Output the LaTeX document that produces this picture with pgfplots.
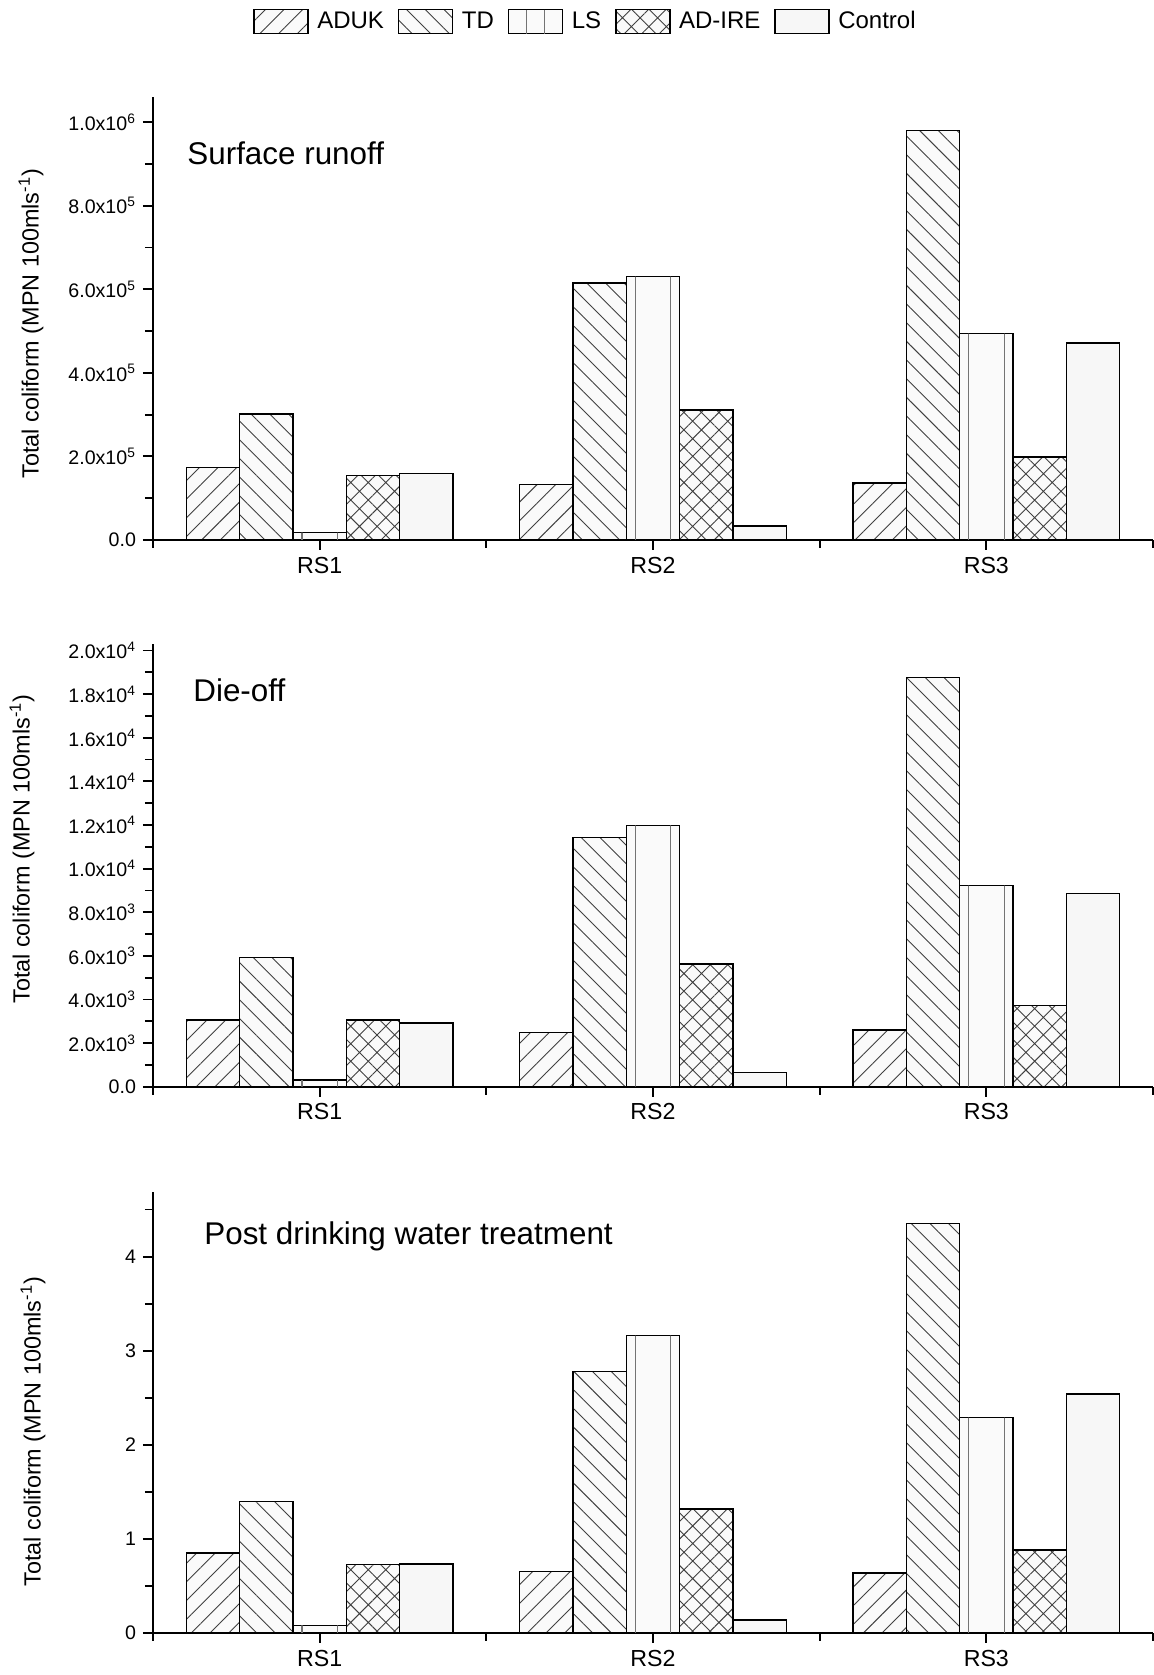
\documentclass[border=0pt]{standalone}
\usepackage{fontspec}
\setmainfont{Liberation Sans}
\usepackage{pgfplots}
\pgfplotsset{compat=1.18}
\usepackage{pgfplotstable}
\usetikzlibrary{patterns.meta}

% Surface runoff
\pgfplotstableread{
x ADUK TD LS ADIRE Control
1 1.73e5 3.01e5 1.75e4 1.54e5 1.59e5
2 1.33e5 6.15e5 6.30e5 3.11e5 3.4e4
3 1.36e5 9.80e5 4.94e5 1.98e5 4.71e5
}\surface
% Die-off
\pgfplotstableread{
x ADUK TD LS ADIRE Control
1 3050 5915 305 3050 2930
2 2480 11420 11980 5630 640
3 2590 18770 9220 3720 8850
}\dieoff
% Post drinking water treatment
\pgfplotstableread{
x ADUK TD LS ADIRE Control
1 0.85 1.40 0.08 0.726 0.733
2 0.655 2.78 3.16 1.32 0.14
3 0.64 4.35 2.29 0.88 2.54
}\post

\pgfplotsset{
  barbase/.style={ybar, bar width=0.16, draw=black, line width=0.75pt},
  aduk/.style={barbase, bar shift=-0.32, fill=black!2,
     postaction={pattern={Lines[angle=45,distance=6.6pt,line width=0.45pt]}, pattern color=black!75},
     legend image code/.code={\draw[##1] (0pt,-6pt) rectangle (27pt,6pt);}},
  td/.style={barbase, bar shift=-0.16, fill=black!2,
     postaction={pattern={Lines[angle=-45,distance=6.6pt,line width=0.45pt]}, pattern color=black!75},
     legend image code/.code={\draw[##1] (0pt,-6pt) rectangle (27pt,6pt);}},
  ls/.style={barbase, bar shift=0, fill=black!2,
     legend image code/.code={\draw[##1] (0pt,-6pt) rectangle (27pt,6pt);
        \draw[black!55,line width=0.6pt] (9pt,-6pt)--(9pt,6pt) (18pt,-6pt)--(18pt,6pt);}},
  lsline/.style={ybar, bar width=0pt, draw=black!55, line width=0.6pt, fill=none, forget plot},
  adire/.style={barbase, bar shift=0.16, fill=black!2,
     postaction={pattern={Hatch[angle=45,distance=6.2pt,line width=0.45pt]}, pattern color=black!75},
     legend image code/.code={\draw[##1] (0pt,-6pt) rectangle (27pt,6pt);}},
  control/.style={barbase, bar shift=0.32, fill=black!3,
     legend image code/.code={\draw[##1] (0pt,-6pt) rectangle (27pt,6pt);}},
  common/.style={
    scale only axis, width=500pt, xmin=0.5, xmax=3.5, ymin=0,
    axis x line*=bottom, axis y line*=left,
    axis line style={line width=1pt, black},
    xtick={1,2,3}, xticklabels={RS1,RS2,RS3},
    minor xtick={0.5,1.5,2.5,3.5},
    tick align=outside, major tick length=5pt, minor tick length=4pt,
    tick style={black, line width=0.9pt},
    scaled y ticks=false,
    x tick label style={font=\fontsize{11.6}{13}\selectfont},
    y tick label style={font=\fontsize{9.8}{11}\selectfont},
    ylabel={Total coliform (MPN 100mls\textsuperscript{-1})},
    ylabel style={font=\fontsize{11.7}{14}\selectfont, anchor=center},
    clip=false,
  },
}

\newcommand{\panelplots}[1]{%
  \addplot[aduk] table[x=x,y=ADUK] {#1};
  \addplot[td] table[x=x,y=TD] {#1};
  \addplot[ls] table[x=x,y=LS] {#1};
  \addplot[lsline, bar shift=-0.0533] table[x=x,y=LS] {#1};
  \addplot[lsline, bar shift=0.0533] table[x=x,y=LS] {#1};
  \addplot[adire] table[x=x,y=ADIRE] {#1};
  \addplot[control] table[x=x,y=Control] {#1};
}

\begin{document}
\begin{tikzpicture}
\useasboundingbox (0,0) rectangle (576.5pt,837.5pt);

% Panel 1
\begin{axis}[common, at={(76.5pt,567.5pt)}, anchor=south west, height=221.5pt,
  ymax=1.06e6,
  ytick={0,2e5,4e5,6e5,8e5,1e6},
  yticklabels={0.0,2.0x10\textsuperscript{5},4.0x10\textsuperscript{5},6.0x10\textsuperscript{5},8.0x10\textsuperscript{5},1.0x10\textsuperscript{6}},
  minor ytick={1e5,3e5,5e5,7e5,9e5},
  ylabel style={at={(axis description cs:-0.122,0.488)}},
  legend columns=5,
  legend style={at={(rel axis cs:0.1,1.17)}, anchor=west, draw=none, fill=none,
    inner sep=0pt, font=\fontsize{12}{14}\selectfont,
    nodes={inner sep=0pt},
    /tikz/every odd column/.style={column sep=4.2pt},
    /tikz/every even column/.style={column sep=7pt}},
]
\panelplots{\surface}
\legend{ADUK,TD,LS,AD-IRE,Control}
\node[anchor=base west, inner sep=0pt, font=\fontsize{15.7}{18}\selectfont] at (rel axis cs:0.034,0.8465) {Surface runoff};
\end{axis}

% Panel 2
\begin{axis}[common, at={(76.5pt,294.15pt)}, anchor=south west, height=221.35pt,
  ymax=2.03e4,
  ytick={0,2000,4000,6000,8000,10000,12000,14000,16000,18000,20000},
  yticklabels={0.0,2.0x10\textsuperscript{3},4.0x10\textsuperscript{3},6.0x10\textsuperscript{3},8.0x10\textsuperscript{3},1.0x10\textsuperscript{4},1.2x10\textsuperscript{4},1.4x10\textsuperscript{4},1.6x10\textsuperscript{4},1.8x10\textsuperscript{4},2.0x10\textsuperscript{4}},
  minor ytick={1000,3000,5000,7000,9000,11000,13000,15000,17000,19000},
  ylabel style={at={(axis description cs:-0.131,0.537)}},
]
\panelplots{\dieoff}
\node[anchor=base west, inner sep=0pt, font=\fontsize{15.7}{18}\selectfont] at (rel axis cs:0.040,0.869) {Die-off};
\end{axis}

% Panel 3
\begin{axis}[common, at={(76.5pt,21pt)}, anchor=south west, height=220.65pt,
  ymax=4.69,
  ytick={0,1,2,3,4},
  yticklabels={0,1,2,3,4},
  minor ytick={0.5,1.5,2.5,3.5,4.5},
  ylabel style={at={(axis description cs:-0.12,0.456)}},
]
\panelplots{\post}
\node[anchor=base west, inner sep=0pt, font=\fontsize{15.7}{18}\selectfont] at (rel axis cs:0.051,0.88) {Post drinking water treatment};
\end{axis}
\end{tikzpicture}
\end{document}
